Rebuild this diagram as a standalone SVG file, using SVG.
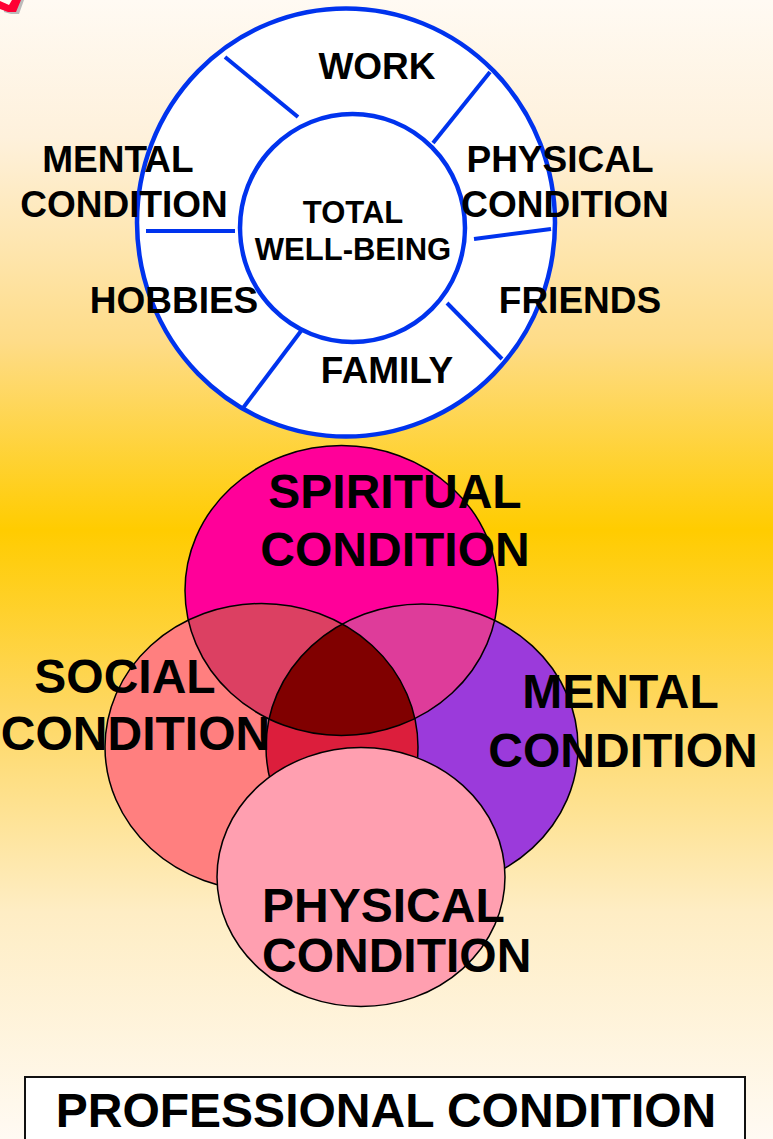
<svg xmlns="http://www.w3.org/2000/svg" width="773" height="1139" viewBox="0 0 773 1139">
<style>
.wl{font-family:"Liberation Sans",Arial,sans-serif;font-weight:bold;font-size:37px;fill:#000;text-anchor:middle}
.wc{font-family:"Liberation Sans",Arial,sans-serif;font-weight:bold;font-size:31px;fill:#000;text-anchor:middle}
.vl{font-family:"Liberation Sans",Arial,sans-serif;font-weight:bold;font-size:48px;fill:#000}
.spoke{stroke:#0033EE;stroke-width:4;fill:none}
.ring{stroke:#0033EE;stroke-width:4.5;fill:#fff}
.vo{fill:none;stroke:#000;stroke-width:1.5}
</style>
<defs>
<linearGradient id="bg" x1="0" y1="0" x2="0" y2="1">
<stop offset="0" stop-color="#FFFAF3"/>
<stop offset="0.12" stop-color="#FEF1DC"/>
<stop offset="0.3" stop-color="#FEDC88"/>
<stop offset="0.465" stop-color="#FFCC00"/>
<stop offset="0.62" stop-color="#FED760"/>
<stop offset="0.8" stop-color="#FEEDC4"/>
<stop offset="1" stop-color="#FFFAF3"/>
</linearGradient>
<clipPath id="cSp"><ellipse cx="341.5" cy="590.5" rx="156.5" ry="145"/></clipPath>
<clipPath id="cSo"><ellipse cx="261.5" cy="747" rx="156.5" ry="143.5"/></clipPath>
</defs>
<rect x="0" y="0" width="773" height="1139" fill="url(#bg)"/>

<g id="corner-mark">
<polygon points="4,3 12,7 15,0 24,0 19,14 11,14 4,12" fill="#BBBBBB"/>
<polygon points="0,1 9,5 12,0 21,0 16,12 8,12 0,9" fill="#FF0033"/>
</g>

<g id="wheel">
<ellipse class="ring" cx="346" cy="222.5" rx="209" ry="214"/>
<ellipse class="ring" cx="352.5" cy="228" rx="112.5" ry="114"/>
</g>
<g id="connectors">
<line class="spoke" x1="225" y1="57" x2="298" y2="117"/>
<line class="spoke" x1="490" y1="72" x2="433" y2="143"/>
<line class="spoke" x1="146" y1="231" x2="235" y2="231"/>
<line class="spoke" x1="474" y1="239" x2="551" y2="229"/>
<line class="spoke" x1="447" y1="303" x2="502" y2="359"/>
<line class="spoke" x1="301" y1="331" x2="243" y2="408"/>
</g>
<g id="wheel-labels">
<g id="center-label"><text class="wc" x="353" y="223">TOTAL</text><text class="wc" x="353" y="260">WELL-BEING</text></g>
<g id="work"><text class="wl" x="377" y="79">WORK</text></g>
<g id="mental-seg"><text class="wl" x="118" y="172">MENTAL</text><text class="wl" x="124" y="217">CONDITION</text></g>
<g id="physical-seg"><text class="wl" x="560" y="172">PHYSICAL</text><text class="wl" x="565" y="217">CONDITION</text></g>
<g id="hobbies"><text class="wl" x="174" y="313">HOBBIES</text></g>
<g id="friends"><text class="wl" x="580" y="313">FRIENDS</text></g>
<g id="family"><text class="wl" x="387" y="383">FAMILY</text></g>
</g>

<g id="venn">
<ellipse id="social" cx="261.5" cy="747" rx="156.5" ry="143.5" fill="#FF7F7F"/>
<ellipse id="mental" cx="422" cy="747" rx="156" ry="143" fill="#9B3ADB"/>
<ellipse id="spiritual" cx="341.5" cy="590.5" rx="156.5" ry="145" fill="#FF0099"/>
<ellipse cx="261.5" cy="747" rx="156.5" ry="143.5" fill="#DC4062" clip-path="url(#cSp)"/>
<ellipse cx="422" cy="747" rx="156" ry="143" fill="#DE3C9A" clip-path="url(#cSp)"/>
<ellipse cx="422" cy="747" rx="156" ry="143" fill="#DC1E3C" clip-path="url(#cSo)"/>
<g clip-path="url(#cSp)"><ellipse cx="422" cy="747" rx="156" ry="143" fill="#800000" clip-path="url(#cSo)"/></g>
<ellipse class="vo" cx="261.5" cy="747" rx="156.5" ry="143.5"/>
<ellipse class="vo" cx="422" cy="747" rx="156" ry="143"/>
<ellipse class="vo" cx="341.5" cy="590.5" rx="156.5" ry="145"/>
<ellipse id="physical" cx="361" cy="877" rx="144" ry="129.5" fill="#FF9FB0" stroke="#000" stroke-width="1.5"/>
</g>
<g id="venn-labels">
<g id="spiritual-label"><text class="vl" x="395" y="508" text-anchor="middle">SPIRITUAL</text><text class="vl" x="395" y="566" text-anchor="middle">CONDITION</text></g>
<g id="social-label"><text class="vl" x="125" y="693" text-anchor="middle">SOCIAL</text><text class="vl" x="135.5" y="750" text-anchor="middle">CONDITION</text></g>
<g id="mental-label"><text class="vl" x="620.5" y="708" text-anchor="middle">MENTAL</text><text class="vl" x="623" y="767" text-anchor="middle">CONDITION</text></g>
<g id="physical-label"><text class="vl" x="262" y="922">PHYSICAL</text><text class="vl" x="262" y="972">CONDITION</text></g>
</g>

<g id="professional">
<rect x="25" y="1077" width="720" height="70" fill="#fff" stroke="#111" stroke-width="2"/>
<text class="vl" x="386" y="1127" text-anchor="middle">PROFESSIONAL CONDITION</text>
</g>
</svg>
